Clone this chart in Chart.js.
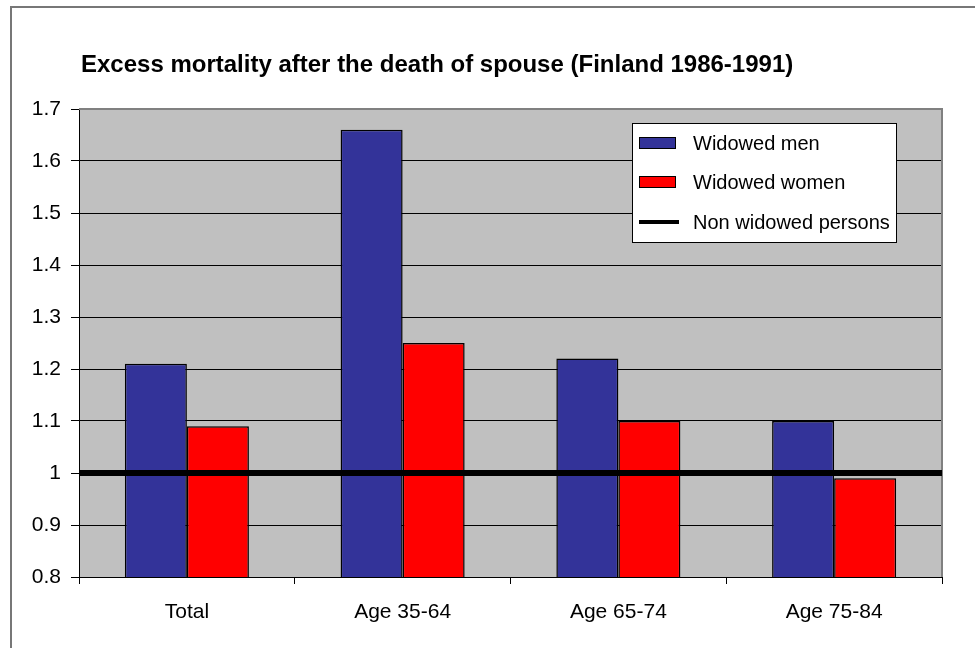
<!DOCTYPE html>
<html>
<head>
<meta charset="utf-8">
<script src="https://cdn.jsdelivr.net/npm/chart.js@4"></script>
<style>
  body { margin: 0; background: #fff; }
  canvas { display: block; }
</style>
</head>
<body>
<canvas id="chart" width="975" height="648"></canvas>
<script>
const categories = ['Total', 'Age 35-64', 'Age 65-74', 'Age 75-84'];
const widowedMen = [1.21, 1.66, 1.22, 1.10];
const widowedWomen = [1.09, 1.25, 1.10, 0.99];
const nonWidowed = 1.0;
const yTicks = [0.8, 0.9, 1.0, 1.1, 1.2, 1.3, 1.4, 1.5, 1.6, 1.7];

const titleText = 'Excess mortality after the death of spouse (Finland 1986-1991)';
const fontFamily = 'Arial, "Liberation Sans", sans-serif';

// gray plot background, outer frame and title
const backdrop = {
  id: 'backdrop',
  beforeDraw(chart) {
    const { ctx, chartArea: a } = chart;
    ctx.save();
    ctx.fillStyle = '#fff';
    ctx.fillRect(0, 0, chart.width, chart.height);
    ctx.fillStyle = '#C0C0C0';
    ctx.fillRect(a.left, a.top, a.right - a.left, a.bottom - a.top);
    // outer frame (only top and left edges fall inside the picture)
    ctx.strokeStyle = '#777';
    ctx.lineWidth = 2;
    ctx.beginPath();
    ctx.moveTo(11, chart.height);
    ctx.lineTo(11, 7);
    ctx.lineTo(chart.width, 7);
    ctx.stroke();
    // title
    ctx.fillStyle = '#000';
    ctx.font = 'bold 24px ' + fontFamily;
    ctx.textBaseline = 'middle';
    ctx.textAlign = 'left';
    ctx.fillText(titleText, 81, 65);
    ctx.restore();
  },
  beforeDatasetsDraw(chart) {
    const { ctx, chartArea: a } = chart;
    ctx.save();
    ctx.strokeStyle = '#808080';
    ctx.lineWidth = 2;
    ctx.beginPath();
    ctx.moveTo(a.left, a.top);
    ctx.lineTo(a.right, a.top);
    ctx.lineTo(a.right, a.bottom);
    ctx.stroke();
    ctx.restore();
  }
};

// boxed legend in the upper right of the plot
const boxLegend = {
  id: 'boxLegend',
  afterDraw(chart) {
    const { ctx } = chart;
    const x = 632, y = 123, w = 264, h = 119;
    ctx.save();
    ctx.fillStyle = '#fff';
    ctx.fillRect(x, y, w, h);
    ctx.strokeStyle = '#000';
    ctx.lineWidth = 1;
    ctx.strokeRect(x + 0.5, y + 0.5, w, h);
    ctx.font = '20px ' + fontFamily;
    ctx.textBaseline = 'middle';
    ctx.textAlign = 'left';
    const rows = [20, 59, 99];
    chart.data.datasets.forEach((ds, i) => {
      const ry = y + rows[i];
      if (ds.type === 'line') {
        ctx.strokeStyle = ds.borderColor;
        ctx.lineWidth = 4;
        ctx.beginPath();
        ctx.moveTo(x + 7, ry);
        ctx.lineTo(x + 47, ry);
        ctx.stroke();
      } else {
        ctx.fillStyle = ds.backgroundColor;
        ctx.fillRect(x + 7, ry - 6, 37, 12);
        ctx.strokeStyle = '#000';
        ctx.lineWidth = 1;
        ctx.strokeRect(x + 7.5, ry - 5.5, 36, 11);
      }
      ctx.fillStyle = '#000';
      ctx.fillText(ds.label, x + 61, ry + 1);
    });
    ctx.restore();
  }
};

const ctx = document.getElementById('chart').getContext('2d');
new Chart(ctx, {
  data: {
    labels: categories,
    datasets: [
      {
        type: 'bar',
        indexAxis: 'x',
        label: 'Widowed men',
        data: widowedMen,
        backgroundColor: '#333399',
        borderColor: '#000',
        borderWidth: 1.5,
        order: 1
      },
      {
        type: 'bar',
        indexAxis: 'x',
        label: 'Widowed women',
        data: widowedWomen,
        backgroundColor: '#FF0000',
        borderColor: '#000',
        borderWidth: 1.5,
        order: 1
      },
      {
        // spans the whole plot width, so it sits on its own hidden linear x axis
        type: 'line',
        indexAxis: 'x',
        label: 'Non widowed persons',
        xAxisID: 'xLine',
        data: [
          { x: -0.5, y: nonWidowed },
          { x: categories.length - 0.5, y: nonWidowed }
        ],
        borderColor: '#000',
        borderWidth: 6,
        pointRadius: 0,
        order: 0
      }
    ]
  },
  options: {
    // chart-level 'y' keeps the extra line axis out of the bar group count
    indexAxis: 'y',
    responsive: false,
    animation: false,
    layout: { padding: { left: 0, top: 109, right: 33, bottom: 0 } },
    datasets: {
      bar: { categoryPercentage: 0.575, barPercentage: 1.0 }
    },
    plugins: {
      legend: { display: false },
      title: { display: false },
      tooltip: { enabled: false }
    },
    scales: {
      x: {
        type: 'category',
        position: 'bottom',
        offset: true,
        grid: {
          offset: true,
          drawOnChartArea: false,
          color: '#000',
          tickLength: 7
        },
        border: { color: '#000', width: 1 },
        ticks: {
          color: '#000',
          padding: 16,
          maxRotation: 0,
          font: { family: fontFamily, size: 21 }
        },
        afterFit(scale) { scale.height = 71; }
      },
      xLine: {
        type: 'linear',
        axis: 'x',
        display: false,
        min: -0.5,
        max: categories.length - 0.5
      },
      y: {
        type: 'linear',
        position: 'left',
        min: yTicks[0],
        max: yTicks[yTicks.length - 1],
        afterBuildTicks(scale) {
          scale.ticks = yTicks.map(v => ({ value: v }));
        },
        grid: {
          color: '#000',
          lineWidth: 1,
          tickLength: 8
        },
        border: { color: '#000', width: 1 },
        ticks: {
          color: '#000',
          padding: 10,
          font: { family: fontFamily, size: 21 },
          callback(value) { return String(Number(value.toFixed(1))); }
        },
        afterFit(scale) { scale.width = 79; }
      }
    }
  },
  plugins: [backdrop, boxLegend]
});
</script>
</body>
</html>
